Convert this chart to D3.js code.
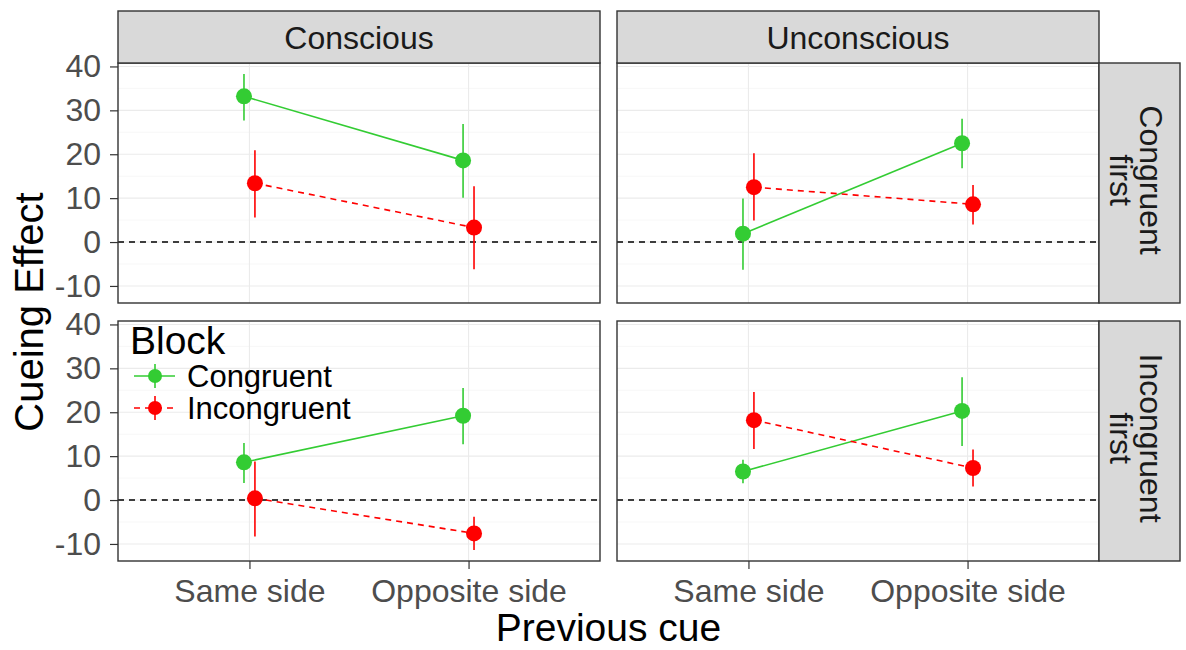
<!DOCTYPE html>
<html>
<head>
<meta charset="utf-8">
<title>Cueing Effect</title>
<style>
body{ margin:0; background:#fff; }
svg text{ font-family: "Liberation Sans", Arial, Helvetica, sans-serif; }
.tick-label{ fill:#4d4d4d; font-size:32px; }
.strip text{ fill:#1a1a1a; font-size:32px; }
.grid-major{ stroke:#ebebeb; stroke-width:1.1; }
.grid-minor{ stroke:#f2f2f2; stroke-width:0.6; }
</style>
</head>
<body>
<svg id="chart"></svg>
<script src="https://d3js.org/d3.v7.min.js"></script>
<script>
// facet levels
var conditions = ["Conscious", "Unconscious"];
var orders = [["Congruent", "first"], ["Incongruent", "first"]];
var cues = ["Same side", "Opposite side"];
var blocks = ["Congruent", "Incongruent"];
var yTicks = [-10, 0, 10, 20, 30, 40];
var yMinor = [-5, 5, 15, 25, 35];

// values per panel: [row][col][cue]
var congMean = [[[33.2, 18.6], [1.9, 22.5]], [[8.6, 19.2], [6.5, 20.3]]];
var congLo   = [[[27.7, 10.1], [-6.3, 16.8]], [[3.9, 12.7], [3.8, 12.3]]];
var congHi   = [[[38.3, 26.9], [9.9, 28.1]], [[13.0, 25.5], [9.2, 28.0]]];
var incMean  = [[[13.4, 3.3], [12.5, 8.6]], [[0.4, -7.6], [18.2, 7.3]]];
var incLo    = [[[5.6, -6.2], [4.9, 4.0]], [[-8.3, -11.4], [11.6, 3.1]]];
var incHi    = [[[20.9, 12.7], [20.2, 13.0]], [[8.8, -3.8], [24.6, 11.5]]];

var colors = {Congruent: "#33cc33", Incongruent: "#ff0000"};
var dashes = {Congruent: null, Incongruent: "6,5"};

var W = 1186, H = 650;
var panelLeft = [118, 617], panelTop = [63, 321];
var pw = 482, ph = 240;
var stripH = 52, stripW = 81;

var svg = d3.select("#chart").attr("width", W).attr("height", H);

// flatten into rows
var rows = [];
for (var r = 0; r < 2; r++) for (var c = 0; c < 2; c++) for (var k = 0; k < 2; k++) {
    rows.push({r: r, c: c, cue: cues[k], block: "Congruent", y: congMean[r][c][k], lo: congLo[r][c][k], hi: congHi[r][c][k]});
    rows.push({r: r, c: c, cue: cues[k], block: "Incongruent", y: incMean[r][c][k], lo: incLo[r][c][k], hi: incHi[r][c][k]});
}

var lo = d3.min(rows, function(d){ return d.lo; }), hi = d3.max(rows, function(d){ return d.hi; });
var pad = (hi - lo) * 0.05;
var y = d3.scaleLinear().domain([lo - pad, hi + pad]).range([ph, 0]);
var x = d3.scalePoint().domain(cues).range([0, pw]).padding(0.6);
var dodge = d3.scalePoint().domain(blocks).range([-0.025, 0.025]);
function xpos(d){ return x(d.cue) + dodge(d.block) * x.step(); }

var line = d3.line().x(xpos).y(function(d){ return y(d.y); });

for (var r = 0; r < 2; r++) {
    for (var c = 0; c < 2; c++) {
        var g = svg.append("g").attr("transform", "translate(" + panelLeft[c] + "," + panelTop[r] + ")");
        var sub = rows.filter(function(d){ return d.r === r && d.c === c; });

        g.selectAll(".gm").data(yMinor).enter().append("line")
            .attr("class", "grid-minor").attr("x1", 0).attr("x2", pw)
            .attr("y1", function(d){ return y(d); }).attr("y2", function(d){ return y(d); });
        g.selectAll(".gy").data(yTicks).enter().append("line")
            .attr("class", "grid-major").attr("x1", 0).attr("x2", pw)
            .attr("y1", function(d){ return y(d); }).attr("y2", function(d){ return y(d); });
        g.selectAll(".gx").data(cues).enter().append("line")
            .attr("class", "grid-major").attr("y1", 0).attr("y2", ph)
            .attr("x1", function(d){ return x(d); }).attr("x2", function(d){ return x(d); });

        // zero reference
        g.append("line").attr("x1", 0).attr("x2", pw).attr("y1", y(0)).attr("y2", y(0))
            .attr("stroke", "#000").attr("stroke-width", 1.5).attr("stroke-dasharray", "6,5");

        blocks.forEach(function(b){
            var pts = sub.filter(function(d){ return d.block === b; });
            g.append("path").datum(pts).attr("d", line)
                .attr("fill", "none").attr("stroke", colors[b]).attr("stroke-width", 1.6)
                .attr("stroke-dasharray", dashes[b]);
        });

        g.selectAll(".err").data(sub).enter().append("line")
            .attr("x1", xpos).attr("x2", xpos)
            .attr("y1", function(d){ return y(d.lo); }).attr("y2", function(d){ return y(d.hi); })
            .attr("stroke", function(d){ return colors[d.block]; }).attr("stroke-width", 1.6);

        g.selectAll(".pt").data(sub).enter().append("circle")
            .attr("cx", xpos).attr("cy", function(d){ return y(d.y); }).attr("r", 8)
            .attr("fill", function(d){ return colors[d.block]; });

        g.append("rect").attr("width", pw).attr("height", ph)
            .attr("fill", "none").attr("stroke", "#333").attr("stroke-width", 1.4);

        // y axis on left column
        if (c === 0) {
            var ya = g.append("g").call(d3.axisLeft(y).tickValues(yTicks).tickSize(8).tickPadding(9)
                .tickFormat(function(d){ return String(d); }));
            ya.select(".domain").remove();
            ya.selectAll("line").attr("stroke", "#333").attr("stroke-width", 1.2);
            ya.selectAll("text").attr("class", "tick-label").attr("font-size", null).attr("fill", null);
        }
        // x axis on bottom row
        if (r === 1) {
            var xa = g.append("g").attr("transform", "translate(0," + ph + ")")
                .call(d3.axisBottom(x).tickSize(8).tickPadding(10));
            xa.select(".domain").remove();
            xa.selectAll("line").attr("stroke", "#333").attr("stroke-width", 1.2);
            xa.selectAll("text").attr("class", "tick-label").attr("font-size", null).attr("fill", null);
        }
        // top strips
        if (r === 0) {
            var s = svg.append("g").attr("class", "strip")
                .attr("transform", "translate(" + panelLeft[c] + "," + (panelTop[0] - stripH) + ")");
            s.append("rect").attr("width", pw).attr("height", stripH)
                .attr("fill", "#d9d9d9").attr("stroke", "#333").attr("stroke-width", 1.4);
            s.append("text").attr("x", pw / 2).attr("y", stripH / 2).attr("dy", "0.36em")
                .attr("text-anchor", "middle").text(conditions[c]);
        }
        // right strips
        if (c === 1) {
            var s2 = svg.append("g").attr("class", "strip")
                .attr("transform", "translate(" + (panelLeft[1] + pw) + "," + panelTop[r] + ")");
            s2.append("rect").attr("width", stripW).attr("height", ph)
                .attr("fill", "#d9d9d9").attr("stroke", "#333").attr("stroke-width", 1.4);
            var t = s2.append("text").attr("transform", "translate(" + (stripW / 2) + "," + (ph / 2 - 3) + ") rotate(90)")
                .attr("text-anchor", "middle");
            t.selectAll("tspan").data(orders[r]).enter().append("tspan")
                .attr("x", 0).attr("y", function(d, i){ return i === 0 ? -12.5 : 17.5; })
                .attr("dy", "0.36em")
                .text(function(d){ return d; });
        }
    }
}

// axis titles
svg.append("text").attr("x", (panelLeft[0] + panelLeft[1] + pw) / 2).attr("y", 641)
    .attr("text-anchor", "middle").attr("font-size", 39).attr("fill", "#000").text("Previous cue");
svg.append("text").attr("transform", "translate(43," + ((panelTop[0] + panelTop[1] + ph) / 2) + ") rotate(-90)")
    .attr("text-anchor", "middle").attr("font-size", 40).attr("fill", "#000").text("Cueing Effect");

// legend inside bottom-left panel
var lg = svg.append("g").attr("transform", "translate(130,354)");
lg.append("text").attr("x", 0).attr("y", 0).attr("font-size", 39).attr("fill", "#000").text("Block");
var items = lg.selectAll(".item").data(blocks).enter().append("g")
    .attr("transform", function(d, i){ return "translate(0," + (22 + i * 32) + ")"; });
items.append("line").attr("x1", 4).attr("x2", 45).attr("y1", 0).attr("y2", 0)
    .attr("stroke", function(d){ return colors[d]; }).attr("stroke-width", 1.6)
    .attr("stroke-dasharray", function(d){ return dashes[d]; });
items.append("line").attr("x1", 25).attr("x2", 25).attr("y1", -12).attr("y2", 12)
    .attr("stroke", function(d){ return colors[d]; }).attr("stroke-width", 1.6);
items.append("circle").attr("cx", 25).attr("cy", 0).attr("r", 7)
    .attr("fill", function(d){ return colors[d]; });
items.append("text").attr("x", 57).attr("y", 0).attr("dy", "0.36em")
    .attr("font-size", 31).attr("fill", "#000").text(function(d){ return d; });
</script>
</body>
</html>
